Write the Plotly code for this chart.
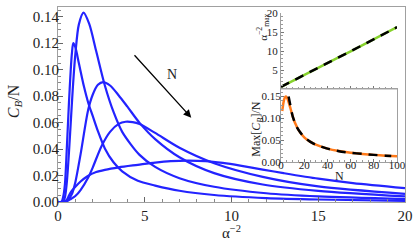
import plotly.graph_objects as go

# ---- main curves (C_B/N vs alpha^-2), five values of N ----
x1 = [0, 0.2, 0.3, 0.4, 0.5, 0.63, 0.73, 0.8, 0.88, 1.0, 1.2, 1.5, 1.75, 2.0, 2.3, 2.7, 3.2, 3.7, 4.6, 5.6, 7, 9, 12, 15, 20]
y1 = [0, 0.0003, 0.004, 0.0136, 0.0383, 0.0746, 0.099, 0.112, 0.12, 0.117, 0.105, 0.087, 0.0746, 0.065, 0.0535, 0.0405, 0.030, 0.0232, 0.016, 0.0124, 0.0085, 0.0053, 0.003, 0.0019, 0.0009]

x2 = [0, 0.2, 0.3, 0.4, 0.5, 0.6, 0.7, 0.8, 0.9, 1.0, 1.2, 1.475, 1.8, 2.2, 2.7, 3.2, 3.7, 4.7, 5.6, 7, 9, 12, 15, 20]
y2 = [0, 0.0, 0.0004, 0.0036, 0.0137, 0.031, 0.0523, 0.0745, 0.095, 0.1117, 0.134, 0.143, 0.1345, 0.114, 0.088, 0.068, 0.053, 0.0356, 0.0265, 0.018, 0.0115, 0.0066, 0.0042, 0.0022]

x3 = [0, 0.3, 0.4, 0.6, 0.8, 1.0, 1.3, 1.74, 2.0, 2.3, 2.6, 3.0, 3.5, 4.0, 4.7, 5.6, 7, 9, 11.8, 15, 20]
y3 = [0, 0.0, 0.0003, 0.002, 0.006, 0.015, 0.036, 0.0696, 0.081, 0.0885, 0.0906, 0.088, 0.0805, 0.072, 0.0598, 0.0475, 0.0338, 0.0218, 0.0132, 0.0084, 0.0042]

x4 = [0, 0.3, 0.5, 0.7, 1.0, 1.3, 1.74, 2.0, 2.5, 3.0, 3.5, 3.9, 4.3, 4.7, 5.6, 7, 9, 11.8, 15, 20]
y4 = [0, 0.0, 0.0005, 0.002, 0.0045, 0.009, 0.0185, 0.026, 0.042, 0.053, 0.059, 0.0606, 0.0603, 0.0589, 0.0522, 0.041, 0.0293, 0.019, 0.0118, 0.0062]

x5 = [0, 0.3, 0.4, 0.5, 0.6, 0.7, 0.8, 1.0, 1.3, 1.7, 2.2, 2.7, 3.5, 4.6, 5.6, 6.5, 7.5, 8.5, 9.5, 10.5, 11.8, 13, 15, 17, 20]
y5 = [0, 0.0, 0.0003, 0.0015, 0.004, 0.0065, 0.0085, 0.0115, 0.0155, 0.0195, 0.0226, 0.0243, 0.0262, 0.0281, 0.0298, 0.0309, 0.0313, 0.0309, 0.0295, 0.0275, 0.0245, 0.0218, 0.0176, 0.0143, 0.0105]

# ---- top inset: alpha^-2_max vs N ----
n_top = [0, 10, 20, 30, 40, 50, 60, 70, 80, 90, 100]
amax = [0.6, 2.2, 3.75, 5.3, 6.85, 8.4, 9.95, 11.5, 13.1, 14.7, 16.3]
top_ticks = [5, 10, 15, 20]
top_ticktext = ["5", "10", "15", "20"]

# ---- bottom inset: Max[C_B]/N vs N ----
n_bot = [1, 2, 3, 4, 5, 6, 7, 8, 10, 12, 15, 20, 25, 30, 40, 50, 60, 70, 80, 90, 100]
cmax = [0.117, 0.135, 0.146, 0.15, 0.148, 0.142, 0.133, 0.124, 0.105, 0.09, 0.074, 0.057, 0.047, 0.040, 0.031, 0.0255, 0.0218, 0.019, 0.0168, 0.015, 0.0136]
n_fit = [6.5, 8, 10, 13, 16, 20, 25, 30, 40, 50, 60, 70, 80, 90, 95]
cfit = [0.15, 0.13, 0.105, 0.083, 0.07, 0.057, 0.047, 0.040, 0.031, 0.0252, 0.0215, 0.019, 0.0168, 0.015, 0.0143]

BLUE = "#2323ff"
GREEN = "#86d22c"
ORANGE = "#ff7a1a"
FRAME = "#a0a0a0"
SERIF = "Liberation Serif"

fig = go.Figure()
for xs, ys in [(x1, y1), (x2, y2), (x3, y3), (x4, y4), (x5, y5)]:
    fig.add_trace(go.Scatter(x=xs, y=ys, mode="lines", line=dict(color=BLUE, width=2.2, shape="spline", smoothing=0.8),
                             showlegend=False, hoverinfo="skip"))

fig.add_trace(go.Scatter(x=n_top, y=amax, xaxis="x2", yaxis="y2", mode="lines",
                         line=dict(color=GREEN, width=2.5), showlegend=False))
fig.add_trace(go.Scatter(x=n_top, y=amax, xaxis="x2", yaxis="y2", mode="lines",
                         line=dict(color="black", width=2.5, dash="9px,7px"), showlegend=False))
fig.add_trace(go.Scatter(x=n_bot, y=cmax, xaxis="x3", yaxis="y3", mode="lines",
                         line=dict(color=ORANGE, width=2.5, shape="spline", smoothing=0.6), showlegend=False))
fig.add_trace(go.Scatter(x=n_fit, y=cfit, xaxis="x3", yaxis="y3", mode="lines",
                         line=dict(color="black", width=2.5, dash="9px,7px", shape="spline", smoothing=0.6), showlegend=False))

L, R, T, B = 58, 9, 1, 41
W, H = 415, 243
PW, PH = W - L - R, H - T - B

def px(xp):
    return (xp - L) / PW

def py(yp):
    return (H - B - yp) / PH

tickfont_main = dict(family=SERIF, size=15, color="#222")
tickfont_in = dict(family=SERIF, size=11, color="#222")

fig.update_layout(
    width=W, height=H, margin=dict(l=L, r=R, t=T, b=B),
    paper_bgcolor="white", plot_bgcolor="white",
    xaxis=dict(range=[0, 20], domain=[0, 1], showgrid=False, zeroline=False,
               showline=True, linecolor=FRAME, linewidth=1, mirror=True,
               ticks="inside", ticklen=5, tickcolor="#666", dtick=5, tick0=0,
               minor=dict(ticks="inside", ticklen=3, dtick=1, tickcolor="#888"),
               tickfont=tickfont_main),
    yaxis=dict(range=[0, 0.1473], domain=[0, 1], showgrid=False, zeroline=False,
               showline=True, linecolor=FRAME, linewidth=1, mirror=True,
               ticks="inside", ticklen=5, tickcolor="#666", dtick=0.02, tick0=0,
               tickformat=".2f", ticklabelstandoff=-5,
               minor=dict(ticks="inside", ticklen=3, dtick=0.005, tickcolor="#888"),
               tickfont=tickfont_main),
    xaxis2=dict(range=[0, 100], domain=[px(281.7), px(398)], anchor="y2", showgrid=False, zeroline=False,
                showline=True, linecolor=FRAME, linewidth=1, ticks="inside", ticklen=3,
                tickcolor="#777", dtick=20, showticklabels=False,
                minor=dict(ticks="inside", ticklen=2, dtick=5, tickcolor="#999")),
    yaxis2=dict(range=[0, 20], domain=[py(85.6), py(7.3)], anchor="x2", showgrid=False, zeroline=False,
                showline=True, linecolor=FRAME, linewidth=1, ticks="inside", ticklen=3,
                tickcolor="#777", tickmode="array", tickvals=top_ticks, ticktext=top_ticktext,
                showticklabels=True, side="left",
                minor=dict(ticks="inside", ticklen=2, dtick=1, tickcolor="#999"),
                tickfont=tickfont_in),
    xaxis3=dict(range=[0, 100], domain=[px(281.7), px(398)], anchor="y3", showgrid=False, zeroline=False,
                showline=True, linecolor=FRAME, linewidth=1, mirror=True, ticks="inside", ticklen=3,
                tickcolor="#777", dtick=20, tick0=0, ticklabelstandoff=-7,
                minor=dict(ticks="inside", ticklen=2, dtick=5, tickcolor="#999"),
                tickfont=tickfont_in),
    yaxis3=dict(range=[0, 0.1662], domain=[py(161), py(86)], anchor="x3", showgrid=False, zeroline=False,
                showline=True, linecolor=FRAME, linewidth=1, mirror=True, ticks="inside", ticklen=3,
                tickcolor="#777", dtick=0.05, tick0=0, tickformat=".2f", ticklabelstandoff=-3,
                minor=dict(ticks="inside", ticklen=2, dtick=0.01, tickcolor="#999"),
                tickfont=tickfont_in),
)

ann = []
# axis titles
ann.append(dict(text="<i>C</i><sub><i>B</i></sub>/N", x=px(14), y=py(98), xref="paper", yref="paper",
                textangle=-90, showarrow=False, xanchor="center", yanchor="middle",
                font=dict(family=SERIF, size=16, color="#222")))
ann.append(dict(text="α<sup>−2</sup>", x=px(232), y=py(233), xref="paper", yref="paper",
                showarrow=False, xanchor="center", yanchor="middle",
                font=dict(family=SERIF, size=15, color="#222")))
ann.append(dict(text="Max[<i>C</i><sub><i>B</i></sub>]/N", x=px(258), y=py(127), xref="paper", yref="paper",
                textangle=-90, showarrow=False, xanchor="center", yanchor="middle",
                font=dict(family=SERIF, size=12, color="#222")))
ann.append(dict(text="N", x=px(340), y=py(175), xref="paper", yref="paper",
                showarrow=False, xanchor="center", yanchor="middle",
                font=dict(family=SERIF, size=12, color="#222")))
ann.append(dict(text="α<sup>−2</sup><sub>max</sub>", x=px(264), y=py(22), xref="paper", yref="paper",
                textangle=-90, showarrow=False, xanchor="center", yanchor="middle",
                font=dict(family=SERIF, size=11, color="#222")))
# arrow with N
ann.append(dict(x=7.68, y=0.0637, ax=4.33, ay=0.112, xref="x", yref="y", axref="x", ayref="y",
                showarrow=True, arrowhead=2, arrowsize=1.2, arrowwidth=1.3, arrowcolor="black", text=""))
ann.append(dict(text="N", x=6.57, y=0.0966, xref="x", yref="y", showarrow=False,
                font=dict(family=SERIF, size=14, color="#222")))
fig.update_layout(annotations=ann)

fig.write_html("out.html", config={"displayModeBar": False},
               post_script="document.body.style.margin='0';document.body.style.overflow='hidden';")
